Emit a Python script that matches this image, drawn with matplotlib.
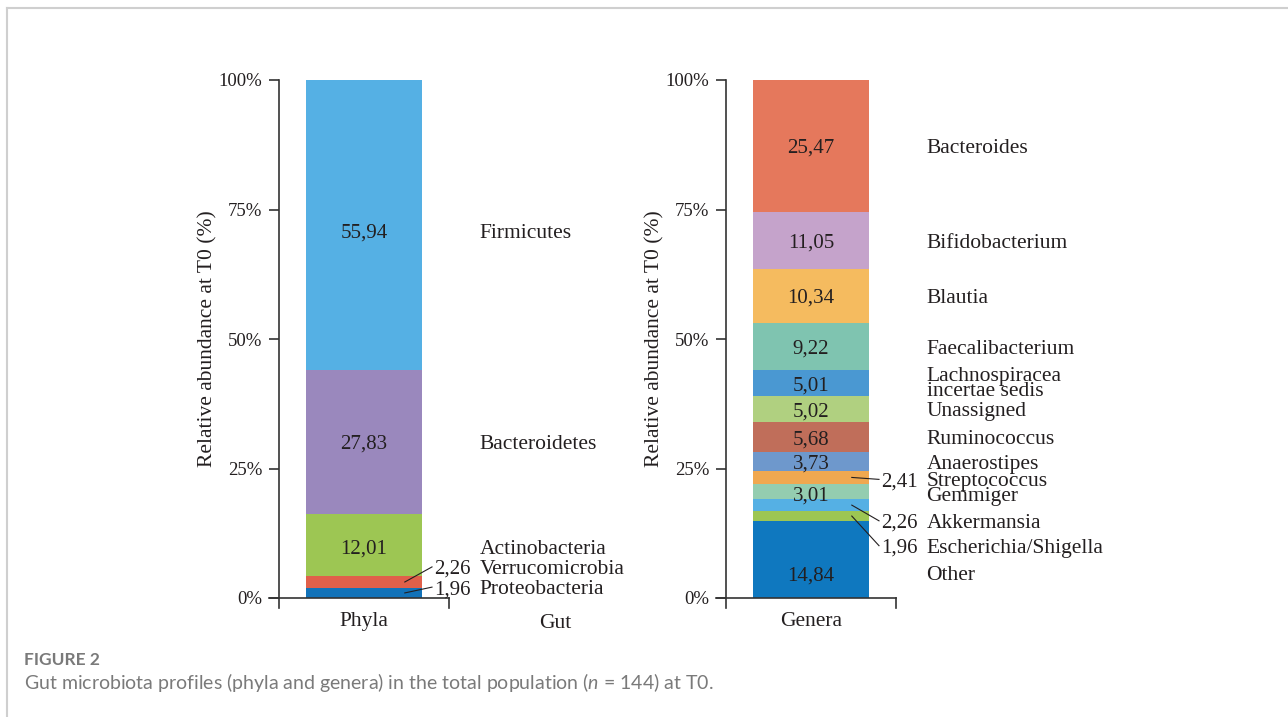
import matplotlib
matplotlib.use("Agg")
import matplotlib.pyplot as plt
from matplotlib.lines import Line2D

plt.rcParams['font.family'] = ['Liberation Serif', 'DejaVu Serif']
plt.rcParams['mathtext.fontset'] = 'custom'
plt.rcParams['mathtext.it'] = 'Lato:italic'
plt.rcParams['mathtext.rm'] = 'Lato'

# data, bottom of the stack first
phyla_names = ["Proteobacteria", "Verrucomicrobia", "Actinobacteria", "Bacteroidetes", "Firmicutes"]
phyla_values = [1.96, 2.26, 12.01, 27.83, 55.94]
phyla_colors = ["#1172b9", "#e0604a", "#9dc653", "#9a88bd", "#55b0e4"]

genera_names = ["Other", "Escherichia/Shigella", "Akkermansia", "Gemmiger", "Streptococcus",
                "Anaerostipes", "Ruminococcus", "Unassigned", "Lachnospiracea\nincertae sedis",
                "Faecalibacterium", "Blautia", "Bifidobacterium", "Bacteroides"]
genera_values = [14.84, 1.96, 2.26, 3.01, 2.41, 3.73, 5.68, 5.02, 5.01, 9.22, 10.34, 11.05, 25.47]
genera_colors = ["#0f78bf", "#9dc653", "#55b0e4", "#94cdb0", "#f0a850", "#6e98cc", "#c06e5a",
                 "#b0d080", "#4a98d2", "#7fc4b0", "#f5bb5f", "#c5a3cb", "#e5785c"]

# label heights (None = middle of segment); small segments are labelled outside
phyla_label_y = [2.1, 6.0, 9.9, None, 70.9]
phyla_outside = [True, True, False, False, False]
genera_label_y = [4.8, 10.1, 14.9, 20.1, 22.9, None, None, None, None, None, None, None, None]
genera_outside = [False, True, True, False, True, False, False, False, False, False, False, False, False]

TXT = "#231f20"
AX = "#333333"

fig = plt.figure(figsize=(12.88, 7.17), dpi=100)


def fmt(v):
    return f"{v:.2f}".replace(".", ",")


def panel(rect, names, values, colors, label_y, outside, xlabel):
    ax = fig.add_axes(rect)
    ax.set_xlim(-0.5, 0.5)
    ax.set_ylim(0, 100)
    bottom = 0
    for name, v, c, ly, out in zip(names, values, colors, label_y, outside):
        ax.bar(0, v, width=0.68, bottom=bottom, color=c, linewidth=0)
        mid = bottom + v / 2
        y = mid if ly is None else ly
        if out:
            ax.plot([0.24, 0.40], [mid, y], color=TXT, lw=0.8, clip_on=False)
            ax.text(0.625, y, fmt(v), ha="right", va="center_baseline", fontsize=15, color=TXT)
        else:
            ax.text(0, y, fmt(v), ha="center", va="center_baseline", fontsize=15, color=TXT)
        ax.text(0.68, y, name, ha="left", va="center_baseline", fontsize=15.5, color=TXT,
                linespacing=0.75)
        bottom += v
    for s in ax.spines.values():
        s.set_visible(False)
    ext = 10 / 518 * 100
    ax.plot([-0.5, -0.5], [100, -ext], color=AX, lw=1.2, clip_on=False)
    ax.plot([-0.5 - 0.06, 0.5], [0, 0], color=AX, lw=1.2, clip_on=False)
    ax.plot([0.5, 0.5], [0, -ext], color=AX, lw=1.2, clip_on=False)
    ax.set_yticks([0, 25, 50, 75, 100], ["0%", "25%", "50%", "75%", "100%"])
    ax.tick_params(axis="y", length=7, width=1.2, color=AX, labelsize=13.5,
                   labelcolor=TXT, pad=5)
    ax.set_xticks([0], [xlabel])
    ax.tick_params(axis="x", length=0, labelsize=15.5, labelcolor=TXT, pad=10)
    ax.set_ylabel("Relative abundance at T0 (%)", fontsize=15.5, color=TXT, labelpad=1)
    return ax


W, H = 1288, 717
panel([279 / W, 1 - 598 / H, 170 / W, 518 / H], phyla_names, phyla_values, phyla_colors,
      phyla_label_y, phyla_outside, "Phyla")
panel([726 / W, 1 - 598 / H, 170 / W, 518 / H], genera_names, genera_values, genera_colors,
      genera_label_y, genera_outside, "Genera")

fig.text(555 / W, 1 - 621 / H, "Gut", ha="center", va="center_baseline", fontsize=15.5, color=TXT)

# caption and frame
fig.text(24 / W, 1 - 660 / H, "FIGURE 2", ha="left", va="center", fontsize=12.5,
         color="#7a7a7a", family="Lato", weight="bold")
fig.text(24 / W, 1 - 683 / H, "Gut microbiota profiles (phyla and genera) in the total population ($n$ = 144) at T0.",
         ha="left", va="center", fontsize=14, color="#7a7a7a", family="Lato")
fig.add_artist(Line2D([7 / W, 7 / W], [0, 1 - 8 / H], color="#cfcfcf", lw=1.5))
fig.add_artist(Line2D([7 / W, 1], [1 - 8 / H, 1 - 8 / H], color="#cfcfcf", lw=1.5))

fig.savefig("out.png", dpi=100)
